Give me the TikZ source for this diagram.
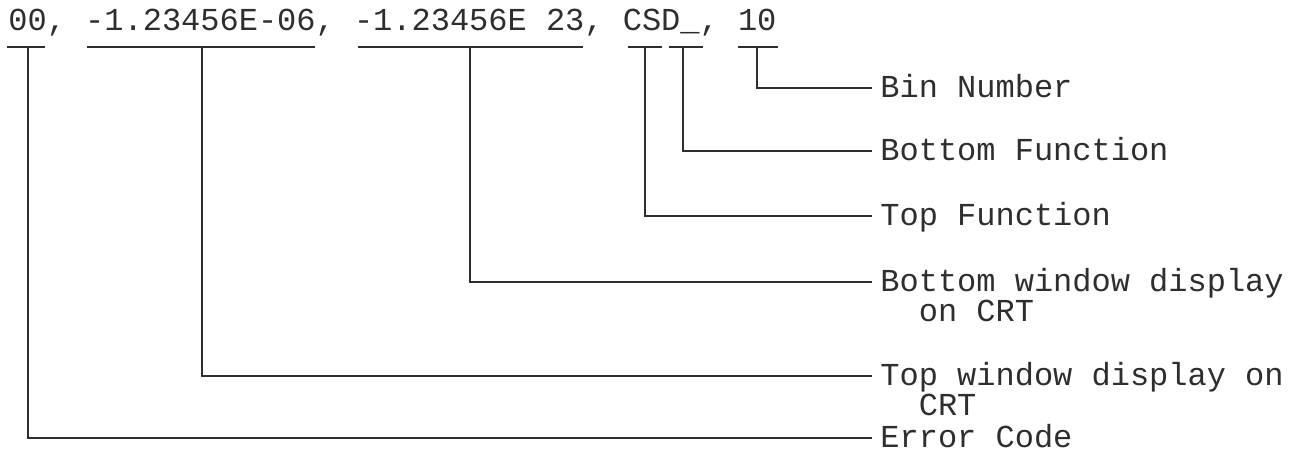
\documentclass[tikz,border=0pt]{standalone}
\usepackage{fontspec}
\newfontfamily\crtfont{Liberation Mono}
\usepackage{xcolor}
\usepackage{tikz}
\usetikzlibrary{positioning,calc}
\definecolor{PrintInk}{HTML}{2E2E2E}
\tikzset{
  recline/.style={font=\crtfont\fontsize{16}{15.5}\selectfont,text=PrintInk,inner sep=0pt,anchor=base west},
  fieldlabel/.style={font=\crtfont\fontsize{16}{15}\selectfont,text=PrintInk,inner sep=0pt,anchor=base west,align=left},
  underbar/.style={draw=PrintInk,line width=0.7pt},
  leader/.style={draw=PrintInk,line width=0.7pt,shorten >=4pt}
}

\begin{document}
\begin{tikzpicture}[x=0.5pt,y=-0.5pt]
\useasboundingbox (0,0) rectangle (1299,451);
\node[recline] (rec) at (8,30) {00, -1.23456E-06, -1.23456E 23, CSD\_, 10};
% underlines below the fields, with the drop point of each leader
\foreach \a/\b/\m/\n in {7/45/28/ec,87/315/202/tw,358/583/470/bw,628/662/645/tf,669/703/683/bf,738/778/757/bn}{
  \draw[underbar] (\a,47) -- (\b,47);
  \coordinate (\n) at (\m,47);
}
% labels (base of two-line labels is their last line)
\node[fieldlabel] (binlbl) at (880,97) {Bin Number};
\node[fieldlabel] (botfnlbl) at (880,160) {Bottom Function};
\node[fieldlabel] (topfnlbl) at (880,225) {Top Function};
\node[fieldlabel] (botwinlbl) at (880,321) {Bottom window display\\\phantom{xx}on CRT};
\node[fieldlabel] (topwinlbl) at (880,415) {Top window display on\\\phantom{xx}CRT};
\node[fieldlabel] (errlbl) at (880,447) {Error Code};
\draw[leader] (bn) |- ([yshift=4.6pt]binlbl.base west);
\draw[leader] (bf) |- ([yshift=4.6pt]botfnlbl.base west);
\draw[leader] (tf) |- ([yshift=4.6pt]topfnlbl.base west);
\draw[leader] (bw) |- ([yshift=19.6pt]botwinlbl.base west);
\draw[leader] (tw) |- ([yshift=19.6pt]topwinlbl.base west);
\draw[leader] (ec) |- ([yshift=4.6pt]errlbl.base west);
\end{tikzpicture}
\end{document}
